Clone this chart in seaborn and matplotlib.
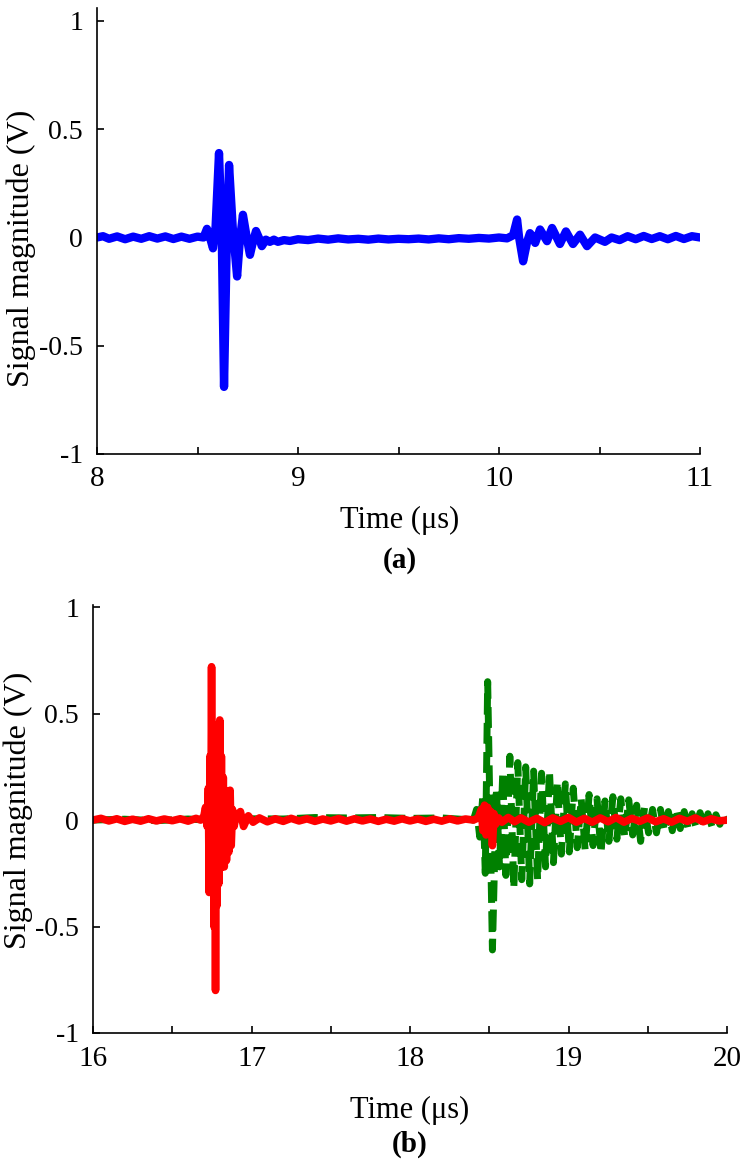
import numpy as np
import pandas as pd
import matplotlib
matplotlib.use("Agg")
import matplotlib.pyplot as plt
import seaborn as sns

# ---------------- data ----------------
# Panel (a): blue signal
t_a = [8.00, 8.03, 8.06, 8.10, 8.14, 8.18, 8.22, 8.26, 8.30, 8.34, 8.38, 8.42, 8.46, 8.50,
       8.53, 8.547, 8.565, 8.577, 8.59, 8.607, 8.62, 8.632, 8.645, 8.657, 8.675, 8.697,
       8.71, 8.726, 8.745, 8.761, 8.776, 8.791, 8.805, 8.82, 8.84, 8.86, 8.88, 8.90, 8.93,
       8.96, 9.00, 9.05, 9.10, 9.15, 9.20, 9.25, 9.30, 9.35, 9.40, 9.45, 9.50, 9.55, 9.60,
       9.65, 9.70, 9.75, 9.80, 9.85, 9.90, 9.95, 10.00, 10.04, 10.07, 10.09, 10.10, 10.12,
       10.14, 10.154, 10.17, 10.18, 10.204, 10.239, 10.264, 10.303, 10.333, 10.368, 10.403,
       10.438, 10.478, 10.527, 10.56, 10.60, 10.64, 10.68, 10.72, 10.76, 10.80, 10.84,
       10.88, 10.92, 10.96, 11.00]
v_a = [0.0, 0.006, -0.006, 0.005, -0.008, 0.004, -0.006, 0.006, -0.005, 0.005, -0.007, 0.004,
       -0.006, 0.004, 0.0, 0.04, -0.01, -0.05, 0.05, 0.39, 0.05, -0.69, -0.05, 0.335, 0.05,
       -0.18, -0.02, 0.105, 0.0, -0.08, -0.02, 0.03, 0.0, -0.04, -0.01, -0.02, -0.01, -0.02,
       -0.012, -0.016, -0.008, -0.012, -0.005, -0.01, -0.004, -0.009, -0.006, -0.01, -0.005,
       -0.009, -0.006, -0.008, -0.005, -0.009, -0.004, -0.008, -0.003, -0.006, -0.002,
       -0.005, 0.0, -0.004, 0.01, 0.083, 0.0, -0.11, -0.02, 0.02, 0.0, -0.025, 0.037, -0.017,
       0.044, -0.03, 0.028, -0.03, 0.013, -0.04, 0.0, -0.02, 0.0, -0.012, 0.006, -0.008,
       0.007, -0.007, 0.006, -0.008, 0.007, -0.007, 0.006, 0.0]

# Panel (b): green dashed signal
t_g = [16.00, 16.20, 16.40, 16.60, 16.80, 17.00, 17.20, 17.40, 17.60, 17.80, 18.00, 18.20,
       18.40, 18.42, 18.44, 18.46, 18.475, 18.49, 18.52, 18.545, 18.565, 18.585, 18.605,
       18.63, 18.655, 18.68, 18.705, 18.73, 18.755, 18.78, 18.805, 18.83, 18.855, 18.88,
       18.905, 18.93, 18.955, 18.98, 19.005, 19.03, 19.055, 19.08, 19.105, 19.13, 19.155,
       19.18, 19.205, 19.23, 19.255, 19.28, 19.305, 19.33, 19.355, 19.38, 19.405, 19.43,
       19.455, 19.48, 19.505, 19.53, 19.555, 19.58, 19.605, 19.63, 19.655, 19.68, 19.705,
       19.73, 19.755, 19.78, 19.805, 19.83, 19.855, 19.88, 19.905, 19.93, 19.955, 19.98, 20.00]
v_g = [0.0, 0.004, -0.003, 0.005, -0.004, 0.006, 0.005, 0.012, 0.01, 0.012, 0.008, 0.01,
       0.0, 0.05, -0.08, 0.12, -0.25, 0.65, -0.61, 0.15, -0.22, 0.22, -0.26, 0.30, -0.32,
       0.27, -0.28, 0.25, -0.30, 0.23, -0.28, 0.22, -0.22, 0.23, -0.20, 0.18, -0.16, 0.17,
       -0.15, 0.15, -0.13, 0.10, -0.14, 0.12, -0.12, 0.10, -0.155, 0.09, -0.10, 0.11, -0.09,
       0.10, -0.08, 0.095, -0.07, 0.07, -0.10, 0.06, -0.06, 0.05, -0.06, 0.05, -0.05, 0.04,
       -0.05, 0.05, -0.04, 0.04, -0.04, 0.03, -0.035, 0.035, -0.03, 0.03, -0.03, 0.025,
       -0.02, 0.03, 0.0]

# Panel (b): red signal
t_r = [16.00, 16.05, 16.10, 16.15, 16.20, 16.25, 16.30, 16.35, 16.40, 16.45, 16.50, 16.55,
       16.60, 16.65, 16.68, 16.70, 16.71, 16.72, 16.728, 16.733, 16.738, 16.743, 16.748,
       16.753, 16.758, 16.763, 16.768, 16.773, 16.778, 16.783, 16.788, 16.793, 16.80,
       16.805, 16.81, 16.815, 16.822, 16.828, 16.835, 16.842, 16.85, 16.857, 16.865,
       16.872, 16.88, 16.89, 16.90, 16.93, 16.95, 16.98, 17.01, 17.05, 17.10, 17.15, 17.20,
       17.25, 17.30, 17.35, 17.40, 17.45, 17.50, 17.55, 17.60, 17.65, 17.70, 17.75, 17.80,
       17.85, 17.90, 17.95, 18.00, 18.05, 18.10, 18.15, 18.20, 18.25, 18.30, 18.35, 18.40,
       18.43, 18.45, 18.46, 18.47, 18.48, 18.49, 18.50, 18.51, 18.52, 18.53, 18.54, 18.56,
       18.58, 18.62, 18.66, 18.70, 18.75, 18.80, 18.85, 18.90, 18.95, 19.00, 19.05, 19.10,
       19.15, 19.20, 19.25, 19.30, 19.35, 19.40, 19.45, 19.50, 19.55, 19.60, 19.65, 19.70,
       19.75, 19.80, 19.85, 19.90, 19.95, 20.00]
v_r = [0.0, 0.008, -0.004, 0.006, -0.006, 0.004, -0.005, 0.006, -0.004, 0.005, -0.003,
       0.006, -0.005, 0.008, 0.0, 0.02, 0.06, -0.03, 0.15, -0.34, 0.30, -0.25, 0.72, -0.20,
       0.45, -0.50, 0.30, -0.80, 0.25, -0.40, 0.35, -0.30, 0.47, -0.20, 0.30, -0.22, 0.20,
       -0.22, 0.14, -0.19, 0.13, -0.15, 0.14, -0.12, 0.05, -0.03, 0.01, 0.04, -0.03, 0.02,
       -0.01, 0.01, -0.008, 0.006, -0.006, 0.008, -0.004, 0.006, -0.006, 0.005, -0.004,
       0.007, -0.005, 0.006, -0.004, 0.005, -0.006, 0.004, -0.005, 0.006, -0.004, 0.005,
       -0.006, 0.004, -0.005, 0.006, -0.004, 0.005, 0.0, 0.01, 0.05, -0.05, 0.07, -0.07,
       0.06, -0.05, 0.04, -0.12, 0.03, -0.02, 0.01, -0.01, 0.012, -0.008, 0.01, -0.01,
       0.008, -0.012, 0.01, -0.006, 0.012, -0.01, 0.008, -0.01, 0.01, -0.008, 0.012,
       -0.01, 0.008, -0.006, 0.01, -0.008, 0.006, -0.01, 0.008, -0.006, 0.01, -0.008,
       0.006, -0.004, 0.0]

x_ticks_a = [8, 9, 10, 11]
x_minor_a = [8.5, 9.5, 10.5]
x_ticks_b = [16, 17, 18, 19, 20]
x_minor_b = [16.5, 17.5, 18.5, 19.5]
y_ticks = [-1, -0.5, 0, 0.5, 1]
y_ticklabels = ["-1", "-0.5", "0", "0.5", "1"]

# ---------------- styling ----------------
sns.set_theme(style="ticks")
plt.rcParams["font.family"] = ["Liberation Serif", "DejaVu Serif"]
plt.rcParams["axes.unicode_minus"] = False
plt.rcParams["axes.linewidth"] = 1.2
plt.rcParams["axes.edgecolor"] = "black"
plt.rcParams["text.color"] = "black"
plt.rcParams["axes.labelcolor"] = "black"
plt.rcParams["xtick.color"] = "black"
plt.rcParams["ytick.color"] = "black"

fig = plt.figure(figsize=(7.5, 11.6), dpi=100)

W, H = 750.0, 1160.0
def rect(l, r, top, bot):
    return [l / W, 1 - bot / H, (r - l) / W, (bot - top) / H]

ax1 = fig.add_axes(rect(97, 700, 8, 454))
ax2 = fig.add_axes(rect(93, 727, 605, 1033))

df_a = pd.DataFrame({"t": t_a, "v": v_a})
df_g = pd.DataFrame({"t": t_g, "v": v_g})
df_r = pd.DataFrame({"t": t_r, "v": v_r})

sns.lineplot(data=df_a, x="t", y="v", sort=False, estimator=None, color="#0000ff",
             lw=6, ax=ax1, solid_joinstyle="round", solid_capstyle="round")
sns.lineplot(data=df_g, x="t", y="v", sort=False, estimator=None, color="#008000",
             lw=5, ax=ax2, linestyle=(0, (3, 1.2)))
sns.lineplot(data=df_r, x="t", y="v", sort=False, estimator=None, color="#ff0000",
             lw=5.5, ax=ax2, solid_joinstyle="round", solid_capstyle="round")

for ax, xt, xm, xl, yl in [(ax1, x_ticks_a, x_minor_a, (8, 11), (-1, 1.06)),
                           (ax2, x_ticks_b, x_minor_b, (16, 20), (-1, 1.01))]:
    ax.set_xlim(*xl)
    ax.set_ylim(*yl)
    ax.set_xticks(xt)
    ax.set_xticklabels([str(v) for v in xt])
    ax.set_xticks(xm, minor=True)
    ax.set_yticks(y_ticks)
    ax.set_yticklabels(y_ticklabels)
    ax.tick_params(axis="both", which="both", direction="in", length=5, width=1.2,
                   colors="black", labelcolor="black")
    ax.tick_params(axis="x", which="major", pad=9, labelsize=21)
    ax.tick_params(axis="y", which="major", pad=10, labelsize=20)
    sns.despine(ax=ax, top=True, right=True)
    ax.set_ylabel("Signal magnitude (V)", fontsize=23, color="black")
    ax.set_xlabel("Time (μs)", fontsize=22, color="black")
    ax.xaxis.label.set_va("center")
    ax.yaxis.label.set_va("center")

ax1.xaxis.set_label_coords(0.502, -0.148)
ax1.yaxis.set_label_coords(-0.126, 0.46)
ax2.xaxis.set_label_coords(0.5, -0.18)
ax2.yaxis.set_label_coords(-0.118, 0.52)

fig.text(400 / W, 1 - 560 / H, "(a)", ha="center", va="center", fontsize=21,
         fontweight="bold", color="black")
fig.text(410 / W, 1 - 1144 / H, "(b)", ha="center", va="center", fontsize=21,
         fontweight="bold", color="black")

fig.savefig("out.png", dpi=100)
